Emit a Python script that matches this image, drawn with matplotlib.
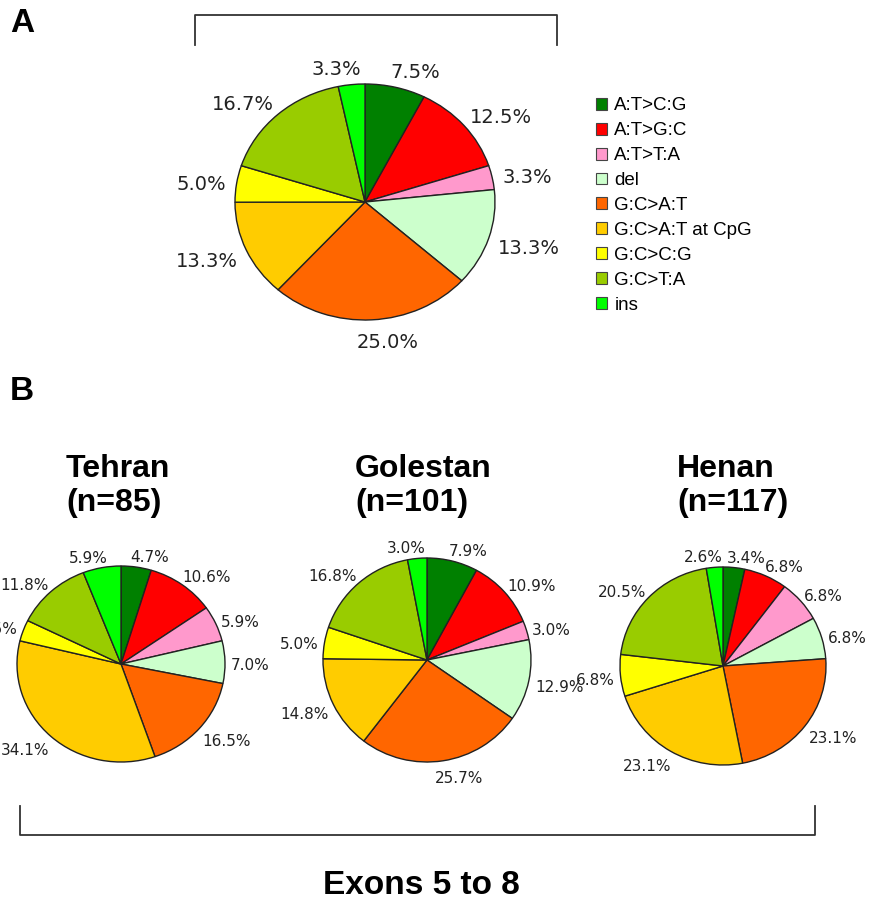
import matplotlib
matplotlib.use("Agg")
import numpy as np
import matplotlib.pyplot as plt
from matplotlib.patches import Patch
from matplotlib.lines import Line2D

W, H = 874, 900

# mutation types and colours
categories = ["A:T>C:G", "A:T>G:C", "A:T>T:A", "del", "G:C>A:T",
              "G:C>A:T at CpG", "G:C>C:G", "G:C>T:A", "ins"]
colors = ["#008000", "#ff0000", "#ff99cc", "#ccffcc", "#ff6600",
          "#ffcc00", "#ffff00", "#99cc00", "#00ff00"]

# panel A (all)
all_pct = [7.5, 12.5, 3.3, 13.3, 25.0, 13.3, 5.0, 16.7, 3.3]

# panel B, exons 5 to 8
regions = ["Tehran\n(n=85)", "Golestan\n(n=101)", "Henan\n(n=117)"]
tehran_pct = [4.7, 10.6, 5.9, 7.0, 16.5, 34.1, 3.5, 11.8, 5.9]
golestan_pct = [7.9, 10.9, 3.0, 12.9, 25.7, 14.8, 5.0, 16.8, 3.0]
henan_pct = [3.4, 6.8, 6.8, 6.8, 23.1, 23.1, 6.8, 20.5, 2.6]

bold_font = ["Liberation Sans", "DejaVu Sans"]

fig = plt.figure(figsize=(W / 100, H / 100), dpi=100)
pies = []


def draw_pie(cx, cy, rx, ry, values, fontsize, gap, k=1.6):
    # axes placed in pixel coords so the pie lands where the reference has it
    ax = fig.add_axes([(cx - k * rx) / W, 1 - (cy + k * ry) / H,
                       2 * k * rx / W, 2 * k * ry / H])
    wedges, texts = ax.pie(
        values, colors=colors, startangle=90, counterclock=False,
        labels=[f"{v:.1f}%" for v in values], labeldistance=1.1,
        wedgeprops=dict(edgecolor="#222222", linewidth=1.0),
        textprops=dict(fontsize=fontsize, color="#222222",
                       family="DejaVu Sans"))
    ax.set_aspect("auto")
    ax.set_xlim(-k, k)
    ax.set_ylim(-k, k)
    ax.axis("off")
    pies.append((wedges, texts, rx, ry, gap))


# panel A
draw_pie(365, 202, 130, 118, all_pct, 14, 0.08)

# panel B
centers = [(121, 664, 104, 98), (427, 660, 104, 102), (723, 666, 103, 99)]
title_left = [66, 355, 677]
for (cx, cy, rx, ry), vals, name, tx in zip(
        centers, [tehran_pct, golestan_pct, henan_pct], regions, title_left):
    draw_pie(cx, cy, rx, ry, vals, 11, 0.06)
    fig.text(tx / W, 1 - 486 / H, name, ha="left", va="center",
             fontsize=23, fontweight="bold", family=bold_font,
             linespacing=1.15, multialignment="left")

# push each label out so its box sits just outside the slice
fig.canvas.draw()
renderer = fig.canvas.get_renderer()
for wedges, texts, rx, ry, gap in pies:
    for w, t in zip(wedges, texts):
        ang = np.deg2rad((w.theta1 + w.theta2) / 2)
        c, s = np.cos(ang), np.sin(ang)
        bb = t.get_window_extent(renderer)
        hw, hh = bb.width / 2 / rx, bb.height / 2 / ry
        fx = np.sign(c) * abs(c) ** 0.25
        x = (1 + gap) * c + hw * fx
        y = (1 + gap) * s + hh * s - 4 / ry
        t.set_position((x, y))
        t.set_ha("center")
        t.set_va("center")

# legend
handles = [Patch(facecolor=c, edgecolor="#444444", linewidth=0.8) for c in colors]
fig.legend(handles, categories, loc="upper left",
           bbox_to_anchor=(588 / W, 1 - 90 / H), frameon=False,
           prop=dict(family="Liberation Sans", size=13.5),
           handlelength=0.6, handleheight=0.6, handletextpad=0.4,
           labelspacing=0.42, borderaxespad=0)

# panel letters
fig.text(10 / W, 1 - 24 / H, "A", fontsize=24, fontweight="heavy",
         family=bold_font, va="center")
fig.text(10 / W, 1 - 392 / H, "B", fontsize=24, fontweight="heavy",
         family=bold_font, va="center")


# brackets
def bracket(x0, x1, ybar, yend):
    fig.add_artist(Line2D([x0 / W, x0 / W, x1 / W, x1 / W],
                          [1 - yend / H, 1 - ybar / H, 1 - ybar / H, 1 - yend / H],
                          color="#333333", linewidth=1.3))


bracket(195, 557, 15, 45)
bracket(20, 815, 835, 806)

fig.text(421 / W, 1 - 885 / H, "Exons 5 to 8", ha="center", va="center",
         fontsize=24, fontweight="bold", family=bold_font)

fig.savefig("out.png", dpi=100)
